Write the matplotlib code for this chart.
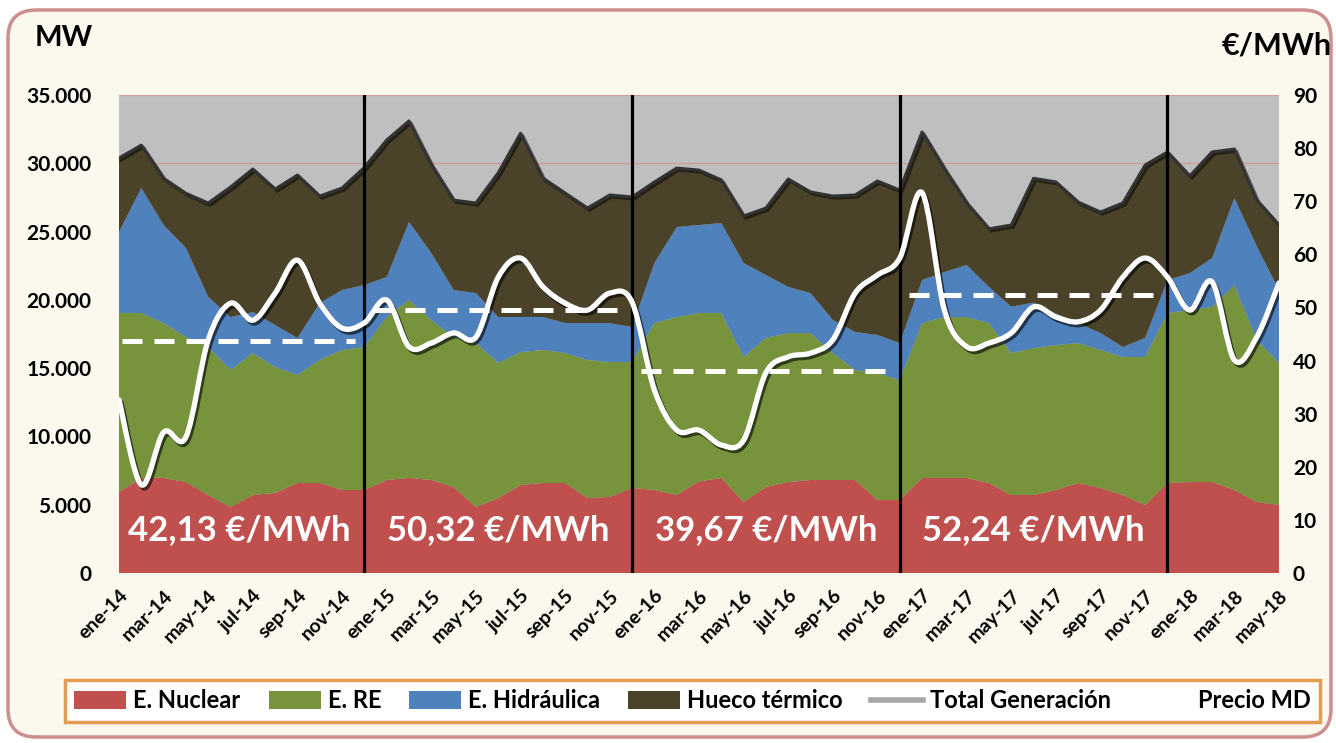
import numpy as np
import matplotlib
matplotlib.use("Agg")
import matplotlib.pyplot as plt
from matplotlib.path import Path
from matplotlib.patches import PathPatch, FancyBboxPatch, Patch
from matplotlib.lines import Line2D
from matplotlib.transforms import IdentityTransform
import matplotlib.patheffects as pe

plt.rcParams['font.family'] = ['Lato', 'DejaVu Sans']
plt.rcParams['font.weight'] = 'bold'

# ---------------- data (MW, monthly ene-14 .. may-18) ----------------
nuclear = [5930, 6960, 6960, 6660, 5710, 4830, 5710, 5860, 6590, 6590, 6080, 6080,
           6810, 6960, 6810, 6300, 4830, 5490, 6440, 6590, 6590, 5490, 5570, 6220,
           6080, 5710, 6700, 6960, 5200, 6300, 6660, 6810, 6810, 6810, 5350, 5350,
           6960, 6960, 6960, 6590, 5710, 5710, 6080, 6590, 6220, 5710, 4980, 6590,
           6660, 6660, 6080, 5200, 4980]
renovable = [13110, 12080, 11340, 10620, 10840, 10030, 10400, 9220, 7910, 9010, 10250, 10470,
             11930, 13030, 11710, 10980, 12010, 9890, 9740, 9740, 9520, 10110, 9880, 9230,
             12220, 13030, 12340, 12080, 10620, 10910, 10910, 10760, 9300, 8050, 9290, 8780,
             11340, 11780, 11780, 11710, 10400, 10760, 10610, 10250, 10110, 10110, 10840, 12450,
             12600, 12820, 15010, 11860, 10400]
hidraulica = [5930, 9150, 7180, 6520, 3660, 3880, 3000, 3080, 2710, 4170, 4390, 4540,
              2930, 5710, 4910, 3440, 3660, 3360, 2560, 2410, 2190, 2700, 2850, 2560,
              4400, 6590, 6440, 6590, 6880, 4610, 3370, 2930, 2410, 2790, 2790, 2710,
              3150, 3300, 3810, 2640, 3390, 3330, 2310, 1460, 1240, 730, 1390, 2410,
              2700, 3580, 6370, 6880, 5340]
hueco_termico = [5410, 3140, 3420, 4000, 6880, 9520, 10470, 9950, 11930, 7830, 7470, 8610,
                 10030, 7400, 6470, 6580, 6590, 10560, 13460, 10180, 9520, 8420, 9380, 9520,
                 5930, 4320, 4020, 3150, 3440, 4900, 7910, 7400, 9080, 10030, 11270, 11200,
                 10840, 7560, 4550, 4260, 5980, 9100, 9630, 8860, 8860, 10540, 12660, 9380,
                 7110, 7770, 3580, 3370, 4760]
# Precio mercado diario (EUR/MWh)
precio = [32.6, 16.6, 26.5, 25.6, 43.9, 50.8, 47.6, 52.7, 58.9, 50.8, 46.1, 47.1,
          51.4, 42.6, 43.3, 45.2, 44.4, 55.7, 59.3, 53.9, 50.8, 49.5, 52.7, 51.0,
          34.5, 26.9, 26.9, 24.1, 25.0, 37.7, 40.7, 41.4, 43.9, 52.7, 56.1, 59.3,
          71.6, 49.5, 42.6, 43.3, 45.2, 50.1, 48.2, 47.3, 49.5, 55.7, 59.3, 55.7,
          49.5, 54.8, 40.1, 44.4, 54.6]

tick_labels = ["ene-14", "mar-14", "may-14", "jul-14", "sep-14", "nov-14",
               "ene-15", "mar-15", "may-15", "jul-15", "sep-15", "nov-15",
               "ene-16", "mar-16", "may-16", "jul-16", "sep-16", "nov-16",
               "ene-17", "mar-17", "may-17", "jul-17", "sep-17", "nov-17",
               "ene-18", "mar-18", "may-18"]

year_separators = [11, 23, 35, 47]          # month index of the vertical lines
avg_levels = [43.6, 49.5, 38.0, 52.3]       # dashed lines (right axis)
avg_labels = ["42,13 €/MWh", "50,32 €/MWh", "39,67 €/MWh", "52,24 €/MWh"]

left_ticks = [0, 5000, 10000, 15000, 20000, 25000, 30000, 35000]
left_ticklabels = ["0", "5.000", "10.000", "15.000", "20.000", "25.000", "30.000", "35.000"]
right_ticks = [0, 10, 20, 30, 40, 50, 60, 70, 80, 90]

series_names = ["E. Nuclear", "E. RE", "E. Hidráulica", "Hueco térmico"]
colors = ["#C0504D", "#77933C", "#4F81BD", "#4A4229"]

# ---------------- figure ----------------
W, H = 1336, 743
fig = plt.figure(figsize=(W / 100, H / 100), dpi=100, facecolor="white")

frame = FancyBboxPatch((8, 6), 1323, 727, boxstyle="round,pad=0,rounding_size=28",
                       transform=IdentityTransform(), facecolor="#FBF8EE",
                       edgecolor="#CC8E8E", linewidth=2.5, zorder=0)
fig.add_artist(frame)

ax = fig.add_axes([119 / W, 1 - 573 / H, (1279 - 119) / W, (573 - 95) / H])
ax.set_facecolor("#BFBFBF")
n = len(nuclear)
x = np.arange(n)

ax.stackplot(x, nuclear, renovable, hidraulica, hueco_termico, colors=colors,
             linewidth=0, zorder=2)
total = np.sum([nuclear, renovable, hidraulica, hueco_termico], axis=0)
ax.plot(x, total, color="#333333", lw=2.2, zorder=3,
        path_effects=[pe.SimpleLineShadow(offset=(1.5, -1.5), shadow_color="black", alpha=0.5),
                      pe.Normal()])

ax.set_xlim(0, n - 1)
ax.set_ylim(0, 35000)
ax.set_yticks(left_ticks)
ax.set_yticklabels(left_ticklabels)
ax.yaxis.grid(True, color="#D49A9A", lw=0.9, zorder=1)
ax.set_axisbelow(True)
ax.set_xticks(np.arange(0, n, 2))
ax.set_xticklabels(tick_labels, rotation=45, ha="right", va="top", rotation_mode="anchor")
ax.tick_params(axis="both", length=0)
ax.tick_params(axis="y", pad=20, labelsize=15)
ax.tick_params(axis="x", pad=10, labelsize=14)
for s in ax.spines.values():
    s.set_visible(False)

for sep in year_separators:
    ax.axvline(sep, color="black", lw=2.3, zorder=4)

# ---------------- price axis ----------------
ax2 = ax.twinx()
ax2.set_ylim(0, 90)
ax2.set_yticks(right_ticks)
ax2.tick_params(axis="y", length=0, pad=10, labelsize=15)
for s in ax2.spines.values():
    s.set_visible(False)

pts = np.column_stack([x, precio]).astype(float)
verts = [pts[0]]
codes = [Path.MOVETO]
for i in range(n - 1):
    p0 = pts[i - 1] if i > 0 else pts[i]
    p1 = pts[i]
    p2 = pts[i + 1]
    p3 = pts[i + 2] if i + 2 < n else pts[i + 1]
    verts += [p1 + (p2 - p0) / 6.0, p2 - (p3 - p1) / 6.0, p2]
    codes += [Path.CURVE4] * 3
price_patch = PathPatch(Path(verts, codes), facecolor="none", edgecolor="white", lw=3.8,
                        transform=ax2.transData, zorder=5, capstyle="round", joinstyle="round",
                        path_effects=[pe.SimpleLineShadow(offset=(1.5, -2), shadow_color="black", alpha=0.6),
                                      pe.Normal()])
ax2.add_patch(price_patch)

bounds = [0] + year_separators
for k, lvl in enumerate(avg_levels):
    x0 = bounds[k] + (0.15 if k == 0 else 0.4)
    x1 = bounds[k + 1] - 0.4
    ax2.plot([x0, x1], [lvl, lvl], color="white", lw=3.6, linestyle=(0, (4.0, 2.4)), zorder=6)
    ax.text((x0 + x1) / 2, 3150, avg_labels[k], color="white", fontsize=25, fontweight="bold",
            ha="center", va="center", zorder=6)

# ---------------- titles ----------------
fig.text(35 / W, 1 - 38 / H, "MW", fontsize=21, fontweight="bold", ha="left", va="center")
fig.text(1332 / W, 1 - 45 / H, "€/MWh", fontsize=22, fontweight="bold", ha="right", va="center")

# ---------------- legend ----------------
handles = [Patch(facecolor=c, edgecolor="none") for c in colors]
handles += [Line2D([], [], color="#A6A6A6", lw=4), Line2D([], [], color="white", lw=4)]
labels = series_names + ["Total Generación", "Precio MD"]
leg = fig.legend(handles, labels, loc="center", ncol=6, mode="expand",
                 bbox_to_anchor=(65 / W, 1 - 722 / H, (1320 - 65) / W, 42 / H),
                 frameon=True, fancybox=False, edgecolor="#E39D52", facecolor="#FFFFFF",
                 framealpha=1, borderaxespad=0, handlelength=2.2, handleheight=0.8,
                 handletextpad=0.3, columnspacing=0.6,
                 prop={"size": 17, "weight": "bold"})
leg.get_frame().set_linewidth(2.5)

fig.savefig("out.png", dpi=100, facecolor=fig.get_facecolor())
